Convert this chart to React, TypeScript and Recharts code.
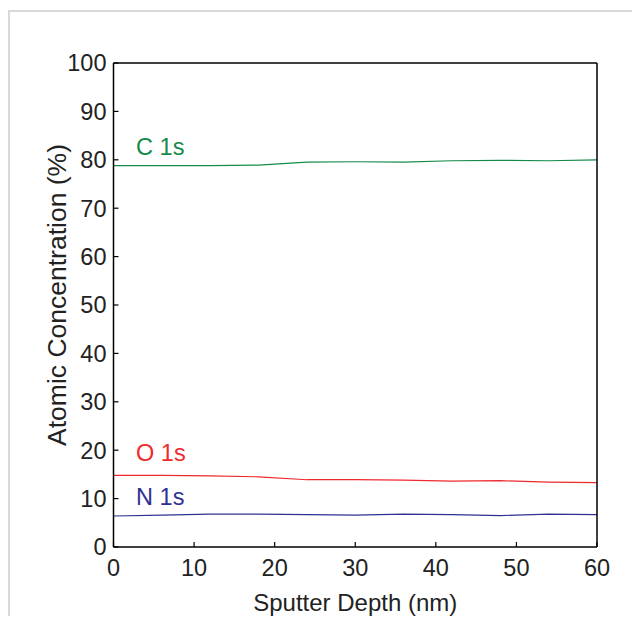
import React from 'react';
import { LineChart, Line, XAxis, YAxis, ReferenceDot } from 'recharts';

// Sputter depth (nm) at each measurement
const depths = [0, 6, 12, 18, 24, 30, 36, 42, 48, 54, 60];

// Atomic concentration (%) per element
const carbon = [78.8, 78.8, 78.8, 78.9, 79.5, 79.6, 79.5, 79.8, 79.9, 79.8, 80.0];
const oxygen = [14.8, 14.8, 14.7, 14.5, 13.9, 13.9, 13.8, 13.6, 13.7, 13.4, 13.3];
const nitrogen = [6.4, 6.6, 6.8, 6.8, 6.7, 6.6, 6.8, 6.7, 6.5, 6.8, 6.7];

const xTicks = [0, 10, 20, 30, 40, 50, 60];
const yTicks = [0, 10, 20, 30, 40, 50, 60, 70, 80, 90, 100];

// Series name tags placed in data coordinates
const seriesTags = [
  { name: 'C 1s', x: 2.8, y: 82.8, color: '#168a49' },
  { name: 'O 1s', x: 2.8, y: 19.4, color: '#ee2a2e' },
  { name: 'N 1s', x: 2.8, y: 10.5, color: '#2e3192' },
];

const rows = depths.map((d, i) => ({
  depth: d,
  c: carbon[i],
  o: oxygen[i],
  n: nitrogen[i],
}));

const FONT = '"Liberation Sans", Arial, Helvetica, sans-serif';
const tickStyle = { fill: '#222', fontSize: 23.5, fontFamily: FONT };
const axisLine = { stroke: '#000', strokeWidth: 1.5 };
const tickLine = { stroke: '#000', strokeWidth: 1.2 };

export default function App() {
  return (
    <div style={{ position: 'relative', width: 624, height: 608, fontFamily: FONT }}>
      <div
        style={{
          position: 'absolute',
          left: 0,
          top: 2,
          width: 624,
          height: 606,
          borderLeft: '2px solid #d9d9d9',
          borderTop: '2px solid #d9d9d9',
          boxSizing: 'border-box',
          pointerEvents: 'none',
        }}
      />
      <LineChart
        width={624}
        height={608}
        data={rows}
        margin={{ top: 45, right: 25, bottom: 0, left: 0 }}
      >
        <XAxis
          dataKey="depth"
          type="number"
          domain={[0, 60]}
          ticks={xTicks}
          height={69}
          tickSize={-5}
          tickMargin={17}
          tick={tickStyle}
          axisLine={axisLine}
          tickLine={tickLine}
          label={{
            value: 'Sputter Depth (nm)',
            position: 'center',
            dy: 21,
            fill: '#222',
            fontSize: 24,
            fontFamily: FONT,
          }}
        />
        <XAxis
          xAxisId="top"
          dataKey="depth"
          type="number"
          orientation="top"
          domain={[0, 60]}
          ticks={xTicks}
          height={10}
          tickSize={-5}
          tick={false}
          axisLine={axisLine}
          tickLine={tickLine}
        />
        <YAxis
          type="number"
          domain={[0, 100]}
          ticks={yTicks}
          width={105.5}
          tickSize={-5}
          tickMargin={12}
          tick={tickStyle}
          axisLine={axisLine}
          tickLine={tickLine}
          label={{
            value: 'Atomic Concentration (%)',
            angle: -90,
            position: 'center',
            dx: -4,
            dy: -10,
            fill: '#222',
            fontSize: 26.5,
            fontFamily: FONT,
          }}
        />
        <YAxis
          yAxisId="right"
          type="number"
          orientation="right"
          domain={[0, 100]}
          ticks={yTicks}
          width={10}
          tickSize={-5}
          tick={false}
          axisLine={axisLine}
          tickLine={tickLine}
        />
        <Line dataKey="c" stroke="#168a49" strokeWidth={1.2} dot={false} isAnimationActive={false} />
        <Line dataKey="o" stroke="#ee2a2e" strokeWidth={1.2} dot={false} isAnimationActive={false} />
        <Line dataKey="n" stroke="#2e3192" strokeWidth={1.2} dot={false} isAnimationActive={false} />
        {seriesTags.map((t) => (
          <ReferenceDot
            key={t.name}
            x={t.x}
            y={t.y}
            r={0}
            ifOverflow="visible"
            fill="none"
            stroke="none"
            label={{
              value: t.name,
              position: 'right',
              offset: 0,
              fill: t.color,
              fontSize: 23.5,
              fontFamily: FONT,
            }}
          />
        ))}
      </LineChart>
    </div>
  );
}
